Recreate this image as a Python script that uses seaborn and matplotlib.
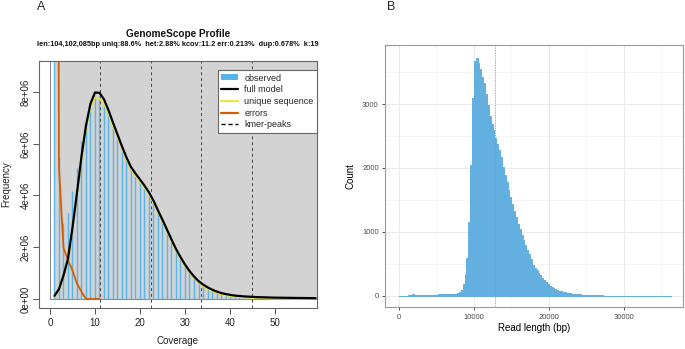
import numpy as np
import pandas as pd
import seaborn as sns
import matplotlib
matplotlib.use("Agg")
from matplotlib import pyplot as plt
from matplotlib.patches import Rectangle, Patch
from matplotlib.lines import Line2D
from matplotlib.ticker import FixedLocator

# ---- panel A: GenomeScope k-mer profile ----
coverage = list(range(1, 60))
observed = [5.0e7, 5.5e6, 2.95e6, 3.32e6, 4.18e6, 5.06e6, 6.1e6, 6.9e6, 7.5e6, 7.85e6,
            7.85e6, 7.6e6, 7.15e6, 6.68e6, 6.22e6, 5.78e6, 5.36e6, 5.0e6, 4.76e6, 4.52e6,
            4.28e6, 4.02e6, 3.7e6, 3.33e6, 2.96e6, 2.6e6, 2.22e6, 1.87e6, 1.56e6, 1.28e6,
            1.03e6, 0.82e6, 0.65e6, 0.52e6, 0.41e6, 0.32e6, 0.25e6, 0.2e6, 0.16e6, 0.13e6,
            0.1e6, 0.085e6, 0.07e6, 0.06e6, 0.05e6, 0.04e6, 0.036e6, 0.033e6, 0.03e6, 0.028e6,
            0.026e6, 0.025e6, 0.024e6, 0.023e6, 0.022e6, 0.021e6, 0.02e6, 0.02e6, 0.019e6]
full_model = [0.12e6, 0.38e6, 0.9e6, 1.55e6, 2.75e6, 4.1e6, 5.5e6, 6.7e6, 7.55e6, 7.98e6,
              7.97e6, 7.72e6, 7.3e6, 6.82e6, 6.36e6, 5.9e6, 5.47e6, 5.1e6, 4.85e6, 4.62e6,
              4.38e6, 4.12e6, 3.8e6, 3.42e6, 3.06e6, 2.68e6, 2.3e6, 1.93e6, 1.62e6, 1.33e6,
              1.08e6, 0.87e6, 0.69e6, 0.56e6, 0.45e6, 0.36e6, 0.29e6, 0.23e6, 0.19e6, 0.16e6,
              0.13e6, 0.115e6, 0.1e6, 0.09e6, 0.08e6, 0.07e6, 0.065e6, 0.06e6, 0.055e6, 0.05e6,
              0.048e6, 0.045e6, 0.043e6, 0.04e6, 0.038e6, 0.036e6, 0.034e6, 0.032e6, 0.03e6]
unique_seq = [0.1e6, 0.33e6, 0.85e6, 1.48e6, 2.65e6, 3.98e6, 5.35e6, 6.52e6, 7.36e6, 7.78e6,
              7.76e6, 7.54e6, 7.14e6, 6.68e6, 6.23e6, 5.79e6, 5.37e6, 5.01e6, 4.76e6, 4.53e6,
              4.29e6, 4.03e6, 3.71e6, 3.34e6, 2.98e6, 2.6e6, 2.23e6, 1.86e6, 1.55e6, 1.27e6,
              1.02e6, 0.81e6, 0.63e6, 0.5e6, 0.39e6, 0.3e6, 0.23e6, 0.18e6, 0.14e6, 0.11e6,
              0.085e6, 0.07e6, 0.055e6, 0.045e6, 0.037e6, 0.03e6, 0.025e6, 0.02e6, 0.017e6, 0.014e6,
              0.012e6, 0.01e6, 0.009e6, 0.008e6, 0.007e6, 0.006e6, 0.005e6, 0.005e6, 0.004e6]
err_cov = list(range(1, 12))
errors = [8.0e7, 5.1e6, 1.98e6, 1.5e6, 1.1e6, 0.6e6, 0.28e6, 0, 0, 0, 0]
kcov = 11.2
kmer_peaks = [kcov * i for i in range(1, 5)]
subtitle = ("len:104,102,085bp uniq:88.6%  het:2.88% kcov:11.2 err:0.213%  "
            "dup:0.678%  k:19")

# ---- panel B: read length histogram (250 bp bins) ----
bin_width = 250
read_counts = [3, 3, 3, 4, 5, 8, 22, 25, 20, 17, 15, 15, 14, 14, 14, 15, 15, 15, 16, 17,
               22, 24, 25, 26, 27, 28, 29, 30, 32, 33, 36, 40, 60, 100, 190, 340, 600, 1150, 2050, 3100,
               3680, 3720, 3640, 3540, 3430, 3330, 3160, 2990, 2820, 2690, 2590, 2470, 2380, 2280, 2170, 2020,
               1890, 1780, 1660, 1540, 1430, 1330, 1230, 1130, 1040, 960, 880, 800, 720, 650, 570, 490,
               440, 400, 360, 320, 280, 245, 215, 185, 160, 140, 122, 108, 95, 85, 76, 68, 60, 53,
               47, 42, 38, 34, 30, 27, 24, 21, 19, 17, 15, 13, 12, 11, 10,
               9, 9, 8, 8, 7, 7, 7, 6, 6, 6, 6, 5, 5, 5, 5, 5, 4, 4, 4, 4, 4, 4, 4,
               3, 3, 3, 3, 3, 3, 3, 3, 3, 3, 3, 2, 2, 2, 2, 2, 2]
mean_read_length = 12800

sns.set_theme(style="white")
plt.rcParams['font.family'] = ['Liberation Sans', 'DejaVu Sans']

fig = plt.figure(figsize=(6.85, 3.49), dpi=100)
axA = fig.add_axes([0.0569, 0.1175, 0.4059, 0.7077])
axB = fig.add_axes([0.562, 0.1195, 0.435, 0.7515])

# panel A
axA.add_patch(Rectangle((0.95, 0), 80, 1e9, facecolor="#D3D3D3", edgecolor="none", zorder=0))
axA.plot([0, 0, 80], [1e9, 0, 0], color="#8a8a8a", lw=0.8, zorder=0.5)
axA.vlines(coverage, 0, observed, color="#56B4E9", lw=1.0, zorder=1)
for xp in kmer_peaks:
    axA.axvline(xp, color="#444444", lw=0.7, ls=(0, (3, 3)), zorder=1.5)
dfA = pd.DataFrame({"cov": coverage, "full": full_model, "unique": unique_seq})
dfE = pd.DataFrame({"cov": err_cov, "err": errors})
sns.lineplot(data=dfE, x="cov", y="err", color="#D55E00", lw=1.3, sort=False,
             estimator=None, ax=axA, zorder=2)
sns.lineplot(data=dfA, x="cov", y="full", color="black", lw=1.6, sort=False,
             estimator=None, ax=axA, zorder=3)
sns.lineplot(data=dfA, x="cov", y="unique", color="#F0E442", lw=1.1, sort=False,
             estimator=None, ax=axA, zorder=2.5)
axA.set_xlim(-2.44, 59.33)
axA.set_ylim(-0.35e6, 9.2e6)
axA.set_xticks([0, 10, 20, 30, 40, 50])
yt = [0, 2e6, 4e6, 6e6, 8e6]
axA.set_yticks(yt)
axA.set_yticklabels(["0e+00", "2e+06", "4e+06", "6e+06", "8e+06"], rotation=90, va="center")
axA.tick_params(axis="both", which="major", length=4, width=0.7, color="#555555",
                labelsize=7, labelcolor="#222222", direction="out", bottom=True, left=True)
axA.tick_params(axis="x", pad=3)
axA.tick_params(axis="y", pad=2)
for s in axA.spines.values():
    s.set_visible(True)
    s.set_color("#666666")
    s.set_linewidth(0.8)
axA.set_xlabel("Coverage", fontsize=7, color="#222222", labelpad=6)
axA.set_ylabel("Frequency", fontsize=7, color="#222222", labelpad=7)
axA.grid(False)

handles = [Patch(facecolor="#56B4E9", edgecolor="none"),
           Line2D([], [], color="black", lw=1.6),
           Line2D([], [], color="#F0E442", lw=1.6),
           Line2D([], [], color="#D55E00", lw=1.6),
           Line2D([], [], color="black", lw=1.0, ls=(0, (3, 2)))]
labels = ["observed", "full model", "unique sequence", "errors", "kmer-peaks"]
leg = axA.legend(handles, labels, loc="upper right", bbox_to_anchor=(1.0, 0.964),
                 borderaxespad=0, fontsize=6.5, frameon=True, fancybox=False,
                 framealpha=1, edgecolor="#666666", handlelength=1.85, handleheight=0.6,
                 handletextpad=0.7, labelspacing=0.3, borderpad=0.4)
leg.get_frame().set_linewidth(0.8)

fig.text(0.2599, 1 - 34.3 / 349, "GenomeScope Profile", ha="center", va="center",
         fontsize=7.2, fontweight="bold", color="#111111")
fig.text(0.2599, 1 - 44.3 / 349, subtitle, ha="center", va="center",
         fontsize=5.3, fontweight="bold", color="#111111")
fig.text(41 / 685, 1 - 7 / 349, "A", ha="center", va="center", fontsize=9)
fig.text(391 / 685, 1 - 7 / 349, "B", ha="center", va="center", fontsize=9)

# panel B
dfB = pd.DataFrame({"length": [bin_width * i + bin_width / 2 for i in range(len(read_counts))],
                    "count": read_counts})
sns.histplot(data=dfB, x="length", weights="count", binwidth=bin_width,
             binrange=(0, bin_width * len(read_counts)), element="step", fill=True,
             color="#62AFE0", alpha=1, linewidth=0.7, edgecolor="#62AFE0", ax=axB, zorder=2)
axB.axvline(mean_read_length, color="#8C8C8C", lw=0.6, ls=(0, (1, 1)), zorder=3)
axB.set_xlim(-1867, 37907)
axB.set_ylim(-177, 3922)
axB.set_xticks([0, 10000, 20000, 30000])
axB.set_yticks([0, 1000, 2000, 3000])
axB.xaxis.set_minor_locator(FixedLocator([5000, 15000, 25000, 35000]))
axB.yaxis.set_minor_locator(FixedLocator([500, 1500, 2500, 3500]))
axB.grid(True, which="major", color="#EBEBEB", lw=0.8, zorder=0)
axB.grid(True, which="minor", color="#F2F2F2", lw=0.5, zorder=0)
axB.set_axisbelow(True)
axB.tick_params(axis="both", which="major", length=2.5, width=0.6, color="#333333",
                labelsize=5.5, labelcolor="#4D4D4D", pad=2, bottom=True, left=True)
axB.tick_params(axis="both", which="minor", length=0)
for s in axB.spines.values():
    s.set_visible(True)
    s.set_color("#999999")
    s.set_linewidth(0.8)
axB.set_xlabel("Read length (bp)", fontsize=7, color="black", labelpad=1.5)
axB.set_ylabel("Count", fontsize=7, color="black", labelpad=5)

fig.savefig("out.png", dpi=100)
